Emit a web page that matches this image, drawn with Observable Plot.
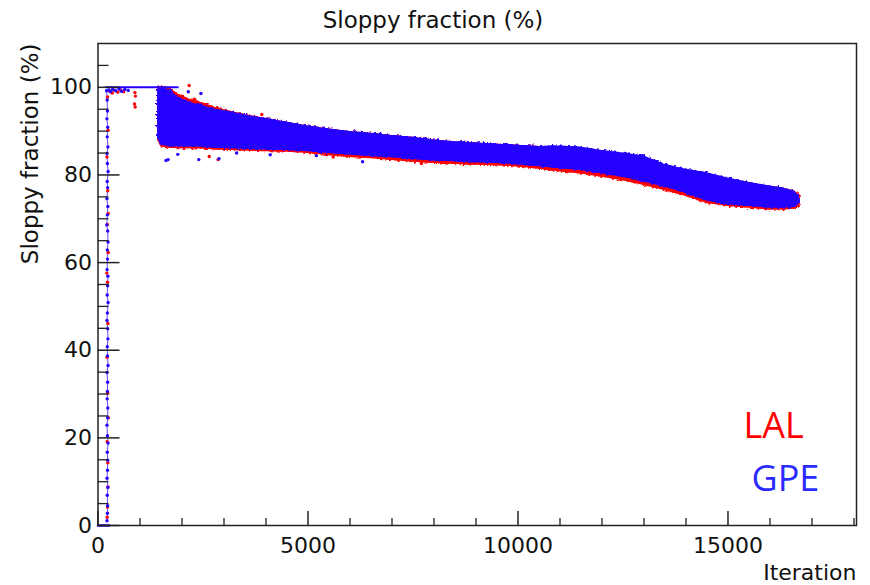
<!DOCTYPE html>
<html><head><meta charset="utf-8">
<script src="https://cdn.jsdelivr.net/npm/d3@7"></script>
<script src="https://cdn.jsdelivr.net/npm/@observablehq/plot@0.6"></script>
<style>body{margin:0;background:#fff}</style>
</head><body><div id="chart"></div>
<script>
const title = "Sloppy fraction (%)";
const xTitle = "Iteration";
const yTitle = "Sloppy fraction (%)";
const seriesNames = ["LAL", "GPE"];
const xTicks = [0, 5000, 10000, 15000];
const yTicks = [0, 20, 40, 60, 80, 100];
const xMinor = [1000,2000,3000,4000,6000,7000,8000,9000,11000,12000,13000,14000,16000,17000,18000];
const yMinor = [5,10,15,25,30,35,45,50,55,65,70,75,85,90,95,105];

// dense band envelopes
const bandIter = [1420,1500,1700,1900,2200,2500,2800,3200,3600,4000,4500,5000,5500,6000,6500,7000,7500,8000,8500,9000,9500,10000,10500,11000,11500,12000,12500,13000,13500,14000,14500,15000,15500,16000,16300,16600,16720];
const gpeUpper = [99.5,100,99.4,97.8,96.5,95.8,95.0,94.3,93.5,92.9,92.0,91.2,90.5,89.9,89.5,89.0,88.6,88.0,87.6,87.3,87.0,86.8,86.5,86.6,86.3,85.6,85.0,84.3,82.4,81.3,80.5,79.3,78.3,77.5,77.0,76.2,74.6];
const gpeLower = [88.5,86.8,86.5,86.4,86.4,86.3,86.1,86.0,85.8,85.7,85.6,85.3,84.9,84.5,84.2,83.9,83.5,83.2,83.0,82.8,82.6,82.3,81.9,81.4,81.0,80.3,79.5,78.4,77.2,75.8,74.0,73.2,72.8,72.4,72.4,72.6,73.6];
const lalUpper = [99.8,100.2,99.8,98.5,97.2,96.4,95.4,94.4,93.6,92.9,92.0,91.2,90.5,89.9,89.5,89.0,88.6,88.0,87.6,87.3,87.0,86.8,86.5,86.5,86.2,85.5,84.9,84.2,82.3,81.2,80.4,79.2,78.2,77.4,77.0,76.3,75.2];
const lalLower = [88.0,86.4,86.1,86.0,86.0,85.9,85.7,85.6,85.4,85.3,85.2,84.9,84.4,84.0,83.7,83.3,82.9,82.6,82.4,82.2,82.1,81.8,81.3,80.7,80.2,79.5,78.7,77.6,76.4,75.1,73.5,72.8,72.4,72.0,72.0,72.2,73.0];

// initial ramp (spike) points
const spikeGpeIter = [205,218,226,212,231,220,236,214,224,241,219,229,213,234,223,209,231,239,221,226,216,236,229,219,241,224,214,231,236,221,226,239,215,229,224,219,234,230,214,224,240,221,231,226,216,235,221,229,224,214];
const spikeGpeVal = [99.2,97.1,94.6,92.8,90.9,88.7,86.4,84.9,82.6,80.8,78.5,77.1,74.6,72.8,70.9,68.6,67.2,64.7,62.9,60.8,58.4,56.9,54.7,52.6,50.9,48.5,46.8,44.9,42.6,40.8,38.7,36.5,34.9,32.7,30.6,28.9,26.8,24.6,22.9,20.5,18.8,16.7,14.9,12.6,10.8,8.7,6.9,4.5,2.8,1.1];
const spikeLalIter = [228,240,214,232,222,244,226,236,216,231,245,219,233,238,226,220,210,242];
const spikeLalVal = [97.8,90.2,84.1,76.4,68.7,62.3,55.5,46.1,38.4,30.2,24.6,19.1,14.3,8.8,4.2,1.9,57.6,71.2];

// plateau and base lines
const plateauIter = [190, 1900];
const plateauVal = [100, 100];
const baseIter = [0, 260];
const baseVal = [0, 0];

// scattered points / outliers
const gpeOutIter = [260,300,350,420,500,560,640,720,1620,1670,1900,2150,2400,2450,2880,4100,6300,3300,5200];
const gpeOutVal = [99.4,99.0,99.5,99.2,99.6,99.1,99.5,99.3,83.3,83.5,84.7,99.0,83.5,98.6,83.7,84.6,83.0,85.0,84.4];
const lalOutIter = [280,340,400,470,540,610,880,890,870,885,2170,2860,2300,2650,3900,5600,7700];
const lalOutVal = [99.1,98.7,99.3,98.9,99.4,99.0,98.8,98.0,96.2,95.5,100.4,83.5,97.3,84.2,93.8,84.1,82.6];

const RED = "#ff0000", BLUE = "#2400ff";

const band = bandIter.map((x, i) => ({x, gHi: gpeUpper[i], gLo: gpeLower[i], lHi: lalUpper[i], lLo: lalLower[i]}));
const pts = (xs, ys) => xs.map((x, i) => ({x, y: ys[i]}));
const spikeGpe = pts(spikeGpeIter, spikeGpeVal);
const gpePts = spikeGpe.concat(pts(gpeOutIter, gpeOutVal));
const lalPts = pts(spikeLalIter, spikeLalVal).concat(pts(lalOutIter, lalOutVal));
const plateau = pts(plateauIter, plateauVal);
const base = pts(baseIter, baseVal);

const W = 870, H = 585, mL = 97.5, mR = 14, mT = 43, mB = 60;
const pw = W - mL - mR, ph = H - mT - mB;
const fmt = d3.format("d");

const chart = Plot.plot({
  width: W, height: H, marginLeft: mL, marginRight: mR, marginTop: mT, marginBottom: mB,
  x: {domain: [0, 18060], label: null},
  y: {domain: [0, 110], label: null},
  style: {fontFamily: "DejaVu Sans", fontSize: "22px", color: "#111", background: "#fff"},
  marks: [
    Plot.areaY(band, {x: "x", y1: "lLo", y2: "lHi", fill: RED}),
    Plot.areaY(band, {x: "x", y1: "lLo", y2: "lHi", fill: RED}),
    Plot.areaY(band, {x: "x", y1: "gLo", y2: "gHi", fill: BLUE}),
    Plot.areaY(band, {x: "x", y1: "gLo", y2: "gHi", fill: BLUE}),
    Plot.line(spikeGpe, {x: "x", y: "y", sort: "y", stroke: BLUE, strokeWidth: 1, strokeOpacity: 0.7}),
    Plot.dot(lalPts, {x: "x", y: "y", r: 1.7, fill: RED}),
    Plot.dot(gpePts, {x: "x", y: "y", r: 1.7, fill: BLUE}),
    Plot.line(plateau, {x: "x", y: "y", stroke: BLUE, strokeWidth: 2}),
    Plot.line(base, {x: "x", y: "y", stroke: BLUE, strokeWidth: 2.5}),
    Plot.tickY(yTicks, {y: d => d, insetRight: pw - 22, stroke: "#222", strokeWidth: 1.5}),
    Plot.tickY(yMinor, {y: d => d, insetRight: pw - 11, stroke: "#222", strokeWidth: 1.3}),
    Plot.tickX(xTicks, {x: d => d, insetTop: ph - 14, stroke: "#222", strokeWidth: 1.5}),
    Plot.tickX(xMinor, {x: d => d, insetTop: ph - 7, stroke: "#222", strokeWidth: 1.3}),
    Plot.frame({stroke: "#222", strokeWidth: 1.5}),
    Plot.axisY({ticks: yTicks, tickSize: 0, tickPadding: 6, tickFormat: fmt, fontSize: 22}),
    Plot.axisX({ticks: xTicks, tickSize: 0, tickPadding: 12, tickFormat: fmt, fontSize: 22}),
    Plot.text([title], {text: d => d, frameAnchor: "top-left", dx: 335, dy: -16, textAnchor: "middle", lineAnchor: "bottom", fontSize: 23, fill: "#111"}),
    Plot.text([yTitle], {text: d => d, frameAnchor: "top-left", dx: -60.5, dy: 0, rotate: -90, textAnchor: "end", lineAnchor: "bottom", fontSize: 23, fill: "#111"}),
    Plot.text([xTitle], {text: d => d, frameAnchor: "bottom-right", dx: 0, dy: 54, textAnchor: "end", lineAnchor: "bottom", fontSize: 22, fill: "#111"}),
    Plot.text([seriesNames[0]], {text: d => d, frameAnchor: "bottom-right", dx: -113, dy: -88, textAnchor: "start", lineAnchor: "bottom", fontFamily: "Open Sans", fontSize: 36, fill: RED}),
    Plot.text([seriesNames[1]], {text: d => d, frameAnchor: "bottom-right", dx: -105, dy: -35, textAnchor: "start", lineAnchor: "bottom", fontFamily: "Open Sans", fontSize: 36, fill: "#2b2bff"})
  ]
});

// roughen band edges to mimic scattered points (filtered copy over a solid copy)
const ns = "http://www.w3.org/2000/svg";
const defs = document.createElementNS(ns, "defs");
defs.innerHTML = '<filter id="rough" x="-5%" y="-30%" width="110%" height="160%" color-interpolation-filters="sRGB"><feTurbulence type="fractalNoise" baseFrequency="0.35" numOctaves="2" seed="7" result="n"/><feDisplacementMap in="SourceGraphic" in2="n" scale="6" xChannelSelector="R" yChannelSelector="G"/></filter>';
chart.insertBefore(defs, chart.firstChild);
const areas = chart.querySelectorAll('g[aria-label="area"]');
areas.forEach((g, i) => { if (i % 2 === 1) g.setAttribute("filter", "url(#rough)"); });
document.getElementById("chart").appendChild(chart);
</script>
</body></html>
